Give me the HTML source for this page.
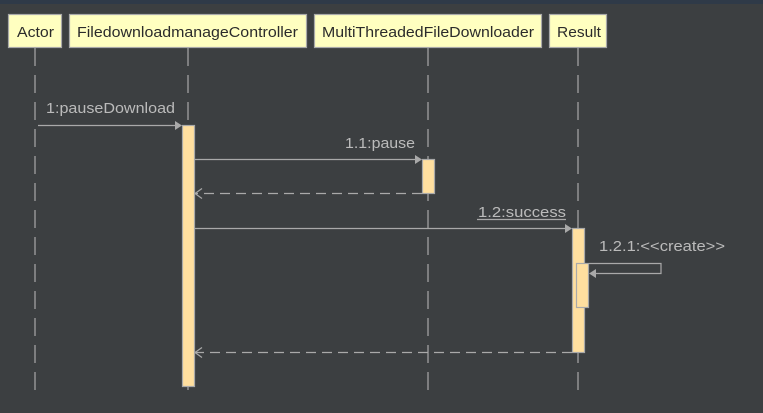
<!DOCTYPE html>
<html><head><style>
html,body{margin:0;padding:0;background:#3c3f41;width:763px;height:413px;overflow:hidden}
</style></head><body>
<svg width="763" height="413" xmlns="http://www.w3.org/2000/svg" font-family="Liberation Sans, sans-serif" font-size="15">
<rect x="0" y="0" width="763" height="413" fill="#3c3f41"/>
<rect x="0" y="0" width="763" height="4" fill="#2f3a48"/>
<g stroke="#a9a9a9" stroke-width="1.2" stroke-dasharray="18,9">
<line x1="35" y1="48" x2="35" y2="390"/>
<line x1="188" y1="48" x2="188" y2="390"/>
<line x1="428" y1="48" x2="428" y2="390"/>
<line x1="578" y1="48" x2="578" y2="390"/>
</g>
<g fill="#ffffc0" stroke="#a9a9a9" stroke-width="1.2">
<rect x="8.5" y="14.5" width="53" height="33"/>
<rect x="69.5" y="14.5" width="237" height="33"/>
<rect x="314.5" y="14.5" width="227" height="33"/>
<rect x="549.5" y="14.5" width="57" height="33"/>
</g>
<g fill="#2b2b2b">
<text x="17" y="37" textLength="37" lengthAdjust="spacingAndGlyphs">Actor</text>
<text x="77" y="37" textLength="221" lengthAdjust="spacingAndGlyphs">FiledownloadmanageController</text>
<text x="322" y="37" textLength="212" lengthAdjust="spacingAndGlyphs">MultiThreadedFileDownloader</text>
<text x="557" y="37" textLength="44" lengthAdjust="spacingAndGlyphs">Result</text>
</g>
<g fill="#ffdf9f" stroke="#a9a9a9" stroke-width="1.2">
<rect x="182.5" y="125.5" width="12" height="261"/>
<rect x="422.5" y="159.5" width="12" height="34"/>
<rect x="572.5" y="228.5" width="12" height="124"/>
<rect x="576.5" y="263.5" width="12" height="44"/>
</g>
<g stroke="#a9a9a9" stroke-width="1.2" fill="none">
<line x1="38" y1="125.5" x2="176" y2="125.5"/>
<line x1="194" y1="159.5" x2="416" y2="159.5"/>
<line x1="422" y1="193.5" x2="194" y2="193.5" stroke-dasharray="10,6"/>
<line x1="194" y1="228.5" x2="566" y2="228.5"/>
<polyline points="589,263.5 661,263.5 661,273.5 595,273.5"/>
<line x1="572" y1="352.5" x2="194" y2="352.5" stroke-dasharray="10,6"/>
<line x1="477" y1="219.5" x2="566" y2="219.5"/>
</g>
<g fill="#a9a9a9">
<polygon points="182,125.5 175,121 175,130"/>
<polygon points="422,159.5 415,155 415,164"/>
<polygon points="572,228.5 565,224 565,233"/>
<polygon points="589,273.5 596,269 596,278"/>
</g>
<g stroke="#a9a9a9" stroke-width="1.2" fill="none">
<polyline points="202,188.5 195,193.5 202,198.5"/>
<polyline points="202,347.5 195,352.5 202,357.5"/>
</g>
<g fill="#bbbbbb">
<text x="46" y="113" textLength="129" lengthAdjust="spacingAndGlyphs">1:pauseDownload</text>
<text x="345" y="148" textLength="70" lengthAdjust="spacingAndGlyphs">1.1:pause</text>
<text x="478" y="217" textLength="88" lengthAdjust="spacingAndGlyphs">1.2:success</text>
<text x="599" y="251" textLength="126" lengthAdjust="spacingAndGlyphs">1.2.1:&lt;&lt;create&gt;&gt;</text>
</g>
</svg>
</body></html>
